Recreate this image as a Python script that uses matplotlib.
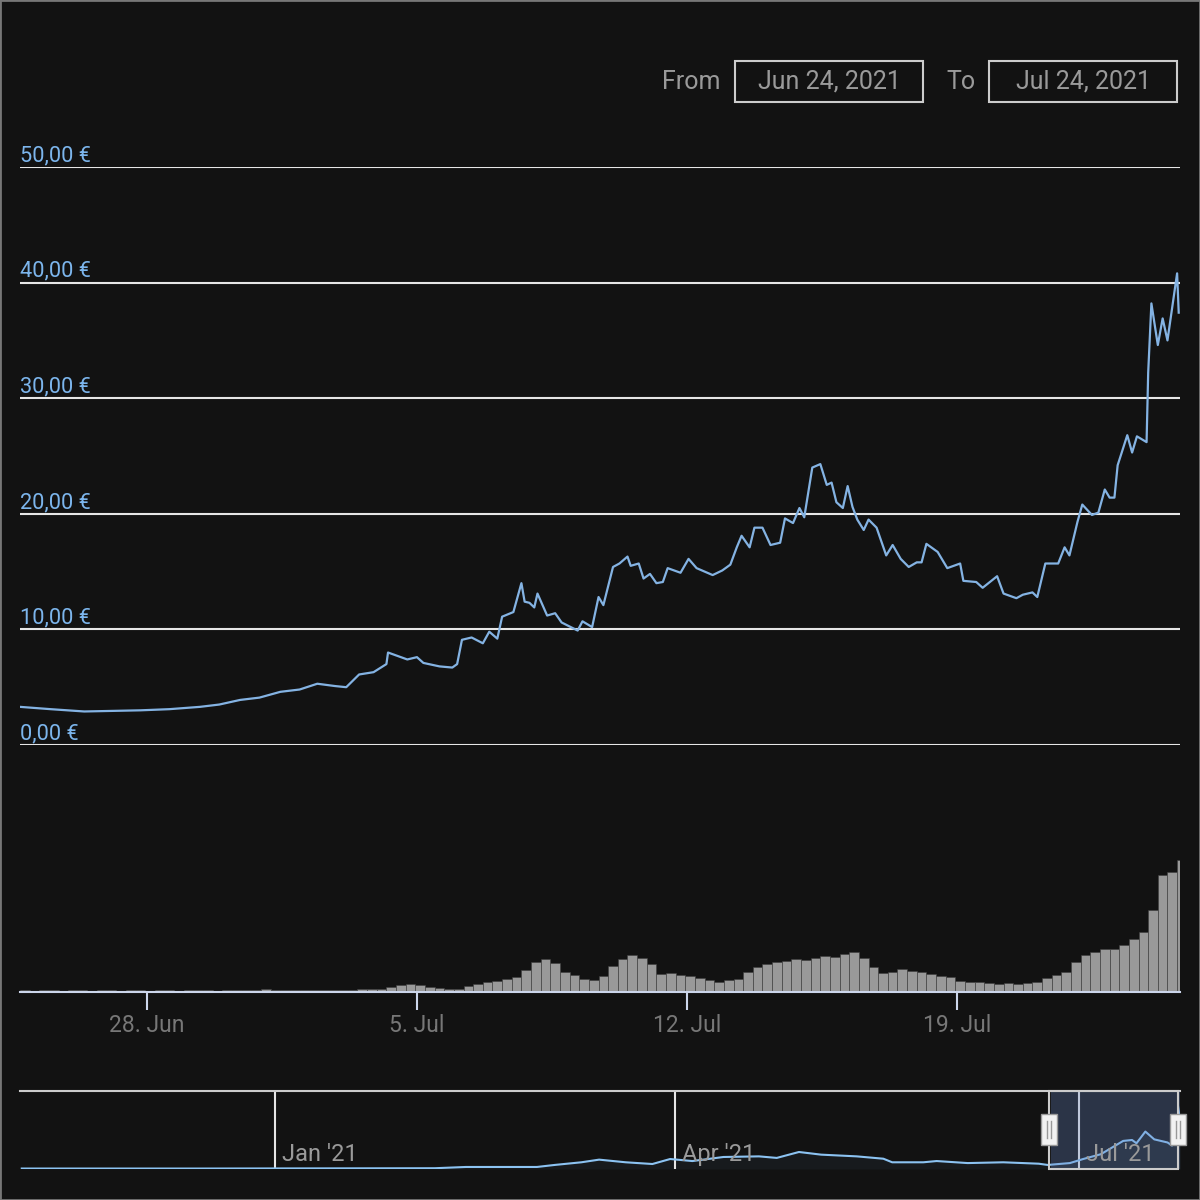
import matplotlib
matplotlib.use("Agg")
import matplotlib.pyplot as plt
import matplotlib.dates as mdates
from matplotlib.patches import Rectangle
from matplotlib.ticker import FuncFormatter
import pandas as pd

plt.rcParams['font.family'] = ['Roboto', 'DejaVu Sans']

# Kursdaten (Stunden seit 24.06.2021 17:00, Preis in EUR)
start = pd.Timestamp('2021-06-24 17:00')
end = pd.Timestamp('2021-07-24 18:48')
price_hours = [0, 19, 40, 56, 75, 93, 112, 124, 137, 149,
               162, 174, 185, 196, 203, 211, 220, 228, 229, 235,
               241, 247, 251, 261, 269, 272, 275, 281, 288, 292,
               297, 300, 307, 312, 314, 317, 320, 322, 328, 333,
               337, 347, 350, 356, 360, 363, 369, 373, 378, 380,
               385, 388, 392, 396, 400, 403, 411, 416, 421, 431,
               437, 442, 446, 449, 454, 457, 462, 467, 473, 476,
               481, 485, 488, 490, 493, 498, 502, 505, 508, 512,
               515, 518, 521, 525, 528, 533, 539, 543, 548, 553,
               558, 561, 564, 571, 577, 585, 587, 595, 599, 608,
               612, 620, 624, 630, 633, 638, 646, 650, 653, 658,
               661, 667, 671, 675, 678, 681, 683, 689, 692, 695,
               701, 702, 704, 708, 711, 714, 717, 720, 721]
price_vals = [3.3, 3.1, 2.9, 2.95, 3.0, 3.1, 3.3, 3.5, 3.9, 4.1,
              4.6, 4.8, 5.3, 5.1, 5.0, 6.1, 6.3, 7.0, 8.0, 7.7,
              7.4, 7.6, 7.1, 6.8, 6.7, 7.0, 9.1, 9.3, 8.8, 9.8,
              9.2, 11.1, 11.5, 14.0, 12.4, 12.3, 11.9, 13.1, 11.2, 11.4,
              10.6, 9.9, 10.7, 10.2, 12.8, 12.1, 15.4, 15.7, 16.3, 15.5,
              15.7, 14.4, 14.8, 14.0, 14.1, 15.3, 14.9, 16.1, 15.3, 14.7,
              15.1, 15.6, 17.1, 18.1, 17.1, 18.8, 18.8, 17.3, 17.5, 19.6,
              19.2, 20.5, 19.7, 21.4, 24.0, 24.3, 22.5, 22.7, 21.0, 20.5,
              22.4, 20.6, 19.5, 18.6, 19.5, 18.8, 16.4, 17.3, 16.1, 15.4,
              15.8, 15.8, 17.4, 16.7, 15.3, 15.7, 14.2, 14.1, 13.6, 14.6,
              13.1, 12.7, 13.0, 13.2, 12.8, 15.7, 15.7, 17.1, 16.4, 19.3,
              20.8, 19.9, 20.1, 22.1, 21.4, 21.4, 24.2, 26.8, 25.3, 26.7,
              26.2, 32.2, 38.2, 34.6, 36.9, 35.0, 37.9, 40.8, 37.4]

# Volumen (alle 6 Stunden, relative Einheiten)
volume_vals = [2, 1, 2, 2, 1, 2, 2, 1, 2, 2,
               1, 2, 2, 1, 2, 2, 1, 2, 2, 2,
               1, 2, 2, 2, 2, 3, 2, 2, 2, 2,
               2, 2, 2, 2,
               2, 3, 3, 3, 5, 7, 8, 7, 5, 4,
               3, 3, 6, 8, 10, 11, 13, 15, 22, 30,
               33, 29, 20, 17, 13, 12, 16, 26, 33, 37,
               34, 28, 18, 19, 17, 16, 14, 12, 10, 12,
               13, 20, 25, 28, 30, 31, 33, 32, 34, 36,
               35, 38, 40, 34, 25, 19, 20, 23, 21, 20,
               18, 16, 15, 11, 10, 10, 9, 8, 9, 8,
               9, 10, 14, 17, 20, 30, 37, 40, 43, 43,
               47, 53, 60, 82, 117, 120, 132]
volume_step_h = 6

# Navigator (Tage seit 01.01.2021)
nav_days = [-57, -17, 36, 43, 59, 63, 69, 73, 79, 85,
            89, 94, 101, 109, 113, 118, 123, 131, 137, 139,
            146, 149, 156, 164, 172, 174, 179, 182, 186, 191,
            193, 194, 196, 198, 201, 202, 203, 204]
nav_vals = [0.3, 0.3, 0.5, 1.3, 1.3, 2.6, 4.3, 6.0, 4.3, 3.2,
            6.4, 5.1, 7.7, 8.1, 7.1, 10.9, 9.2, 8.1, 6.6, 4.3,
            4.3, 5.1, 3.8, 4.3, 3.4, 2.6, 3.8, 6.4, 9.5, 18.0,
            18.6, 16.5, 24.0, 19.0, 17.0, 15.0, 20.0, 40.0]
nav_ticks = ['2021-01-01', '2021-04-01', '2021-07-01']
nav_tick_labels = ["Jan '21", "Apr '21", "Jul '21"]

y_ticks = [0, 10, 20, 30, 40, 50]

bg = '#121212'
line_col = '#84b3e3'
grid_col = '#e6e6e6'
text_col = '#9a9a9a'
W = H = 1200

price_t = start + pd.to_timedelta(price_hours, unit='h')
vol_t = start + pd.to_timedelta([i * volume_step_h for i in range(len(volume_vals))], unit='h')
nav_t = pd.Timestamp('2021-01-01') + pd.to_timedelta(nav_days, unit='D')

fig = plt.figure(figsize=(12, 12), dpi=100, facecolor=bg)


def fx(px):
    return px / W


def fy(py):
    return 1 - py / H


# Hauptdiagramm
ax = fig.add_axes([fx(20), fy(745), fx(1160), fy(167) - fy(745)], facecolor=bg)
ax.plot(price_t, price_vals, color=line_col, lw=1.6, solid_joinstyle='round', zorder=3)
ax.set_ylim(0, 50)
ax.set_xlim(start, end)
for v in y_ticks:
    ax.axhline(v, color=grid_col, lw=1.5, zorder=1)
    ax.annotate(f'{v},00 €', xy=(0, v), xycoords=ax.get_yaxis_transform(),
                xytext=(0, 0.5), textcoords='offset points', ha='left', va='bottom',
                color='#7cb5ec', fontsize=15.7)
ax.set_xticks([])
ax.set_yticks([])
for s in ax.spines.values():
    s.set_visible(False)

# Volumen
axv = fig.add_axes([fx(20), fy(992), fx(1160), fy(780) - fy(992)], facecolor='none')
axv.bar(vol_t, volume_vals, width=volume_step_h / 24, align='edge',
        color='#999999', edgecolor='#3c3c3c', linewidth=0.4)
axv.set_xlim(start, end)
axv.set_ylim(0, 212)
axv.set_yticks([])
for s in ['top', 'left', 'right']:
    axv.spines[s].set_visible(False)
axv.spines['bottom'].set_color('#ccd6eb')
axv.spines['bottom'].set_linewidth(1.5)
axv.xaxis.set_major_locator(mdates.WeekdayLocator(byweekday=mdates.MO))
axv.xaxis.set_major_formatter(FuncFormatter(
    lambda x, pos: f"{mdates.num2date(x).day}. {mdates.num2date(x).strftime('%b')}"))
axv.tick_params(axis='x', colors='#ccd6eb', length=13, width=1.5, pad=3,
                labelcolor='#777777', labelsize=16.5)

# Datumsauswahl oben
fig.text(fx(720), fy(82), 'From', ha='right', va='center', color=text_col, fontsize=18)
fig.text(fx(976), fy(82), 'To', ha='right', va='center', color=text_col, fontsize=18)
for x0, label in [(735, 'Jun 24, 2021'), (989, 'Jul 24, 2021')]:
    fig.add_artist(Rectangle((fx(x0), fy(102)), fx(188), fy(61) - fy(102),
                             transform=fig.transFigure, fill=False,
                             edgecolor='#cccccc', lw=1.5))
    fig.text(fx(x0 + 94), fy(82), label, ha='center', va='center',
             color=text_col, fontsize=18)

# Navigator
axn = fig.add_axes([fx(20), fy(1169), fx(1160), fy(1091) - fy(1169)], facecolor=bg)
nav_left = pd.Timestamp('2021-01-01') - pd.Timedelta(days=57.4)
nav_right = pd.Timestamp('2021-01-01') + pd.Timedelta(days=203.8)
axn.set_xlim(nav_left, nav_right)
axn.set_ylim(0, 50)
axn.fill_between(nav_t, nav_vals, 0, color='#7cb5ec', alpha=0.05, lw=0)
axn.plot(nav_t, nav_vals, color='#8cc3f2', lw=1.5, zorder=3)
for d, lab in zip(nav_ticks, nav_tick_labels):
    dt = pd.Timestamp(d)
    axn.axvline(dt, color=grid_col, lw=1.5, zorder=2)
    axn.annotate(lab, xy=(dt, 0), xycoords=('data', 'axes fraction'),
                 xytext=(5, 2), textcoords='offset points', ha='left', va='bottom',
                 color=text_col, fontsize=17, zorder=5)
axn.axvspan(start, nav_right, color='#6685c2', alpha=0.3, lw=0, zorder=4)
axn.set_xticks([])
axn.set_yticks([])
for s in ['left', 'right', 'bottom']:
    axn.spines[s].set_visible(False)
axn.spines['top'].set_color('#cccccc')
axn.spines['top'].set_linewidth(1.5)

# Auswahlrahmen und Griffe (Pixelkoordinaten aus den Daten berechnet)
fig.canvas.draw()
sel_x0 = axn.transData.transform((mdates.date2num(start), 0))[0] - 2
sel_x1 = axn.transData.transform((mdates.date2num(nav_right), 0))[0] - 2
fig.add_artist(Rectangle((sel_x0 / W, fy(1169)), (sel_x1 - sel_x0) / W, fy(1091) - fy(1169),
                         transform=fig.transFigure, fill=False, edgecolor='#cccccc', lw=1.5))
for hx in [sel_x0, sel_x1]:
    fig.add_artist(Rectangle(((hx - 8) / W, fy(1145)), 16 / W, fy(1114) - fy(1145),
                             transform=fig.transFigure, facecolor='#f2f2f2',
                             edgecolor='#999999', lw=1, zorder=10))
    for dx in (-2, 2):
        fig.add_artist(plt.Line2D([(hx + dx) / W] * 2, [fy(1138), fy(1121)],
                                  transform=fig.transFigure, color='#999999', lw=1, zorder=11))

# Rahmen um die Grafik
fig.add_artist(Rectangle((0, 0), 1, 1, transform=fig.transFigure, fill=False,
                         edgecolor='#777777', lw=2))

fig.savefig('out.png', dpi=100, facecolor=bg)
